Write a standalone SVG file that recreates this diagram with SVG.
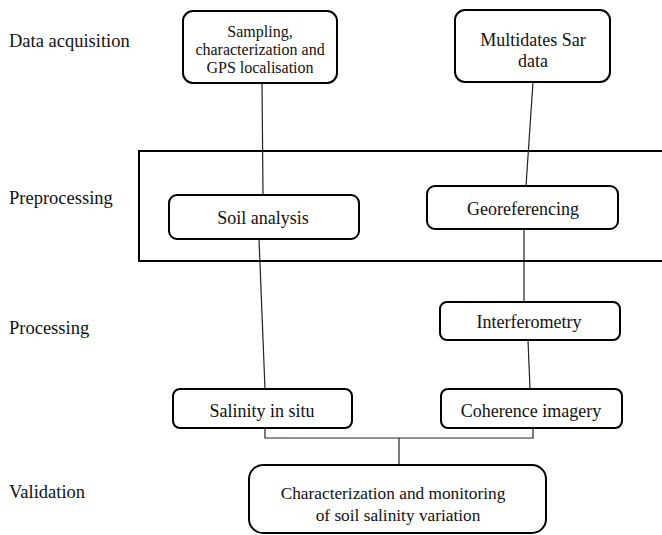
<svg xmlns="http://www.w3.org/2000/svg" width="662" height="535" viewBox="0 0 662 535">
<style>
.box{fill:#fff;stroke:#000;stroke-width:2}
.t{font-size:18px;fill:#111;text-anchor:middle}
.s{font-size:16px}
.v{font-size:17.3px}
.lbl{font-size:18.5px;fill:#111}
.c{fill:none;stroke:#222;stroke-width:1.2}
</style>
<rect width="662" height="535" fill="#fff"/>
<g font-family="Liberation Serif, Times New Roman, Times, serif">
<g id="stage-labels">
<text class="lbl" x="9" y="47">Data acquisition</text>
<text class="lbl" x="9" y="204">Preprocessing</text>
<text class="lbl" x="9" y="334">Processing</text>
<text class="lbl" x="9" y="498">Validation</text>
</g>
<g id="preprocessing-frame"><rect x="139" y="151" width="524" height="110" fill="none" stroke="#000" stroke-width="2"/></g>
<g id="connectors">
<path class="c" d="M262 83 L263 195"/>
<path class="c" d="M533 82 L526 186"/>
<path class="c" d="M259 239 L265 389"/>
<path class="c" d="M524 229 L524 302"/>
<path class="c" d="M528 340 L530 389"/>
<path class="c" d="M265 428 V438 H533 V428"/>
<path class="c" d="M399 438 V465"/>
</g>
<g id="sampling"><rect class="box" x="183" y="11" width="154" height="72" rx="10"/>
<text class="t s" x="260" y="37">Sampling,</text>
<text class="t s" x="260" y="55">characterization and</text>
<text class="t s" x="260" y="73">GPS localisation</text></g>
<g id="sar"><rect class="box" x="455" y="10" width="155" height="72" rx="10"/>
<text class="t" x="533" y="46">Multidates Sar</text>
<text class="t" x="533" y="67">data</text></g>
<g id="soil-analysis"><rect class="box" x="169" y="195" width="190" height="44" rx="8"/>
<text class="t" x="263" y="224">Soil analysis</text></g>
<g id="georeferencing"><rect class="box" x="427" y="186" width="191" height="43" rx="8"/>
<text class="t" x="523" y="215">Georeferencing</text></g>
<g id="interferometry"><rect class="box" x="440" y="302" width="180" height="38" rx="7"/>
<text class="t" x="529" y="328">Interferometry</text></g>
<g id="salinity"><rect class="box" x="173" y="389" width="179" height="39" rx="7"/>
<text class="t" x="262" y="417">Salinity in situ</text></g>
<g id="coherence"><rect class="box" x="441" y="389" width="181" height="39" rx="7"/>
<text class="t" x="531" y="417">Coherence imagery</text></g>
<g id="validation"><rect class="box" x="249" y="465" width="297" height="68" rx="14"/>
<text class="t v" x="393" y="499">Characterization and monitoring</text>
<text class="t v" x="398" y="521">of soil salinity variation</text></g>
</g>
</svg>
